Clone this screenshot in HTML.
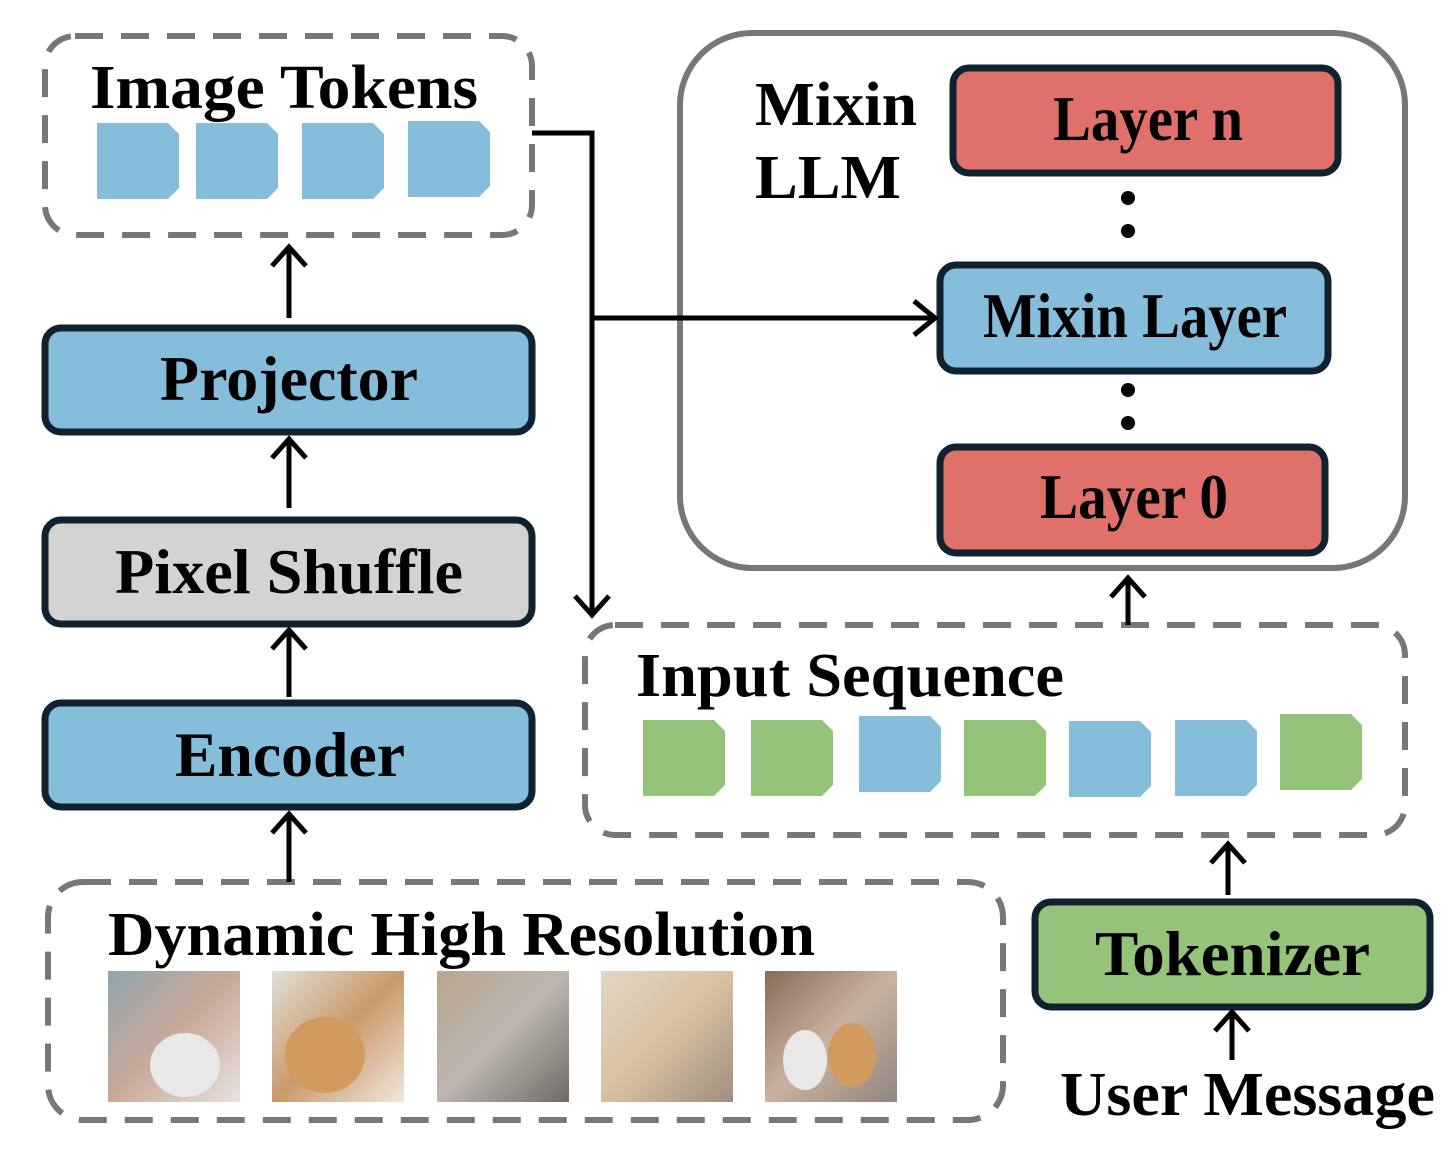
<!DOCTYPE html>
<html><head><meta charset="utf-8"><style>html,body{margin:0;padding:0;background:#fff}svg{display:block}</style></head><body>
<svg width="1448" height="1156" viewBox="0 0 1448 1156" xmlns="http://www.w3.org/2000/svg" font-family="'Liberation Serif', serif" font-weight="bold">
<defs>
<symbol id="tk" viewBox="0 0 82 76"><path d="M0 0H71L82 11V65L71 76H0Z"/></symbol>
<linearGradient id="g1" x1="0" y1="0" x2="1" y2="1"><stop offset="0" stop-color="#8fa6ad"/><stop offset="0.5" stop-color="#c9a99a"/><stop offset="1" stop-color="#e8e2de"/></linearGradient>
<linearGradient id="g2" x1="0" y1="0" x2="1" y2="1"><stop offset="0" stop-color="#dfe0da"/><stop offset="0.5" stop-color="#c99a6a"/><stop offset="1" stop-color="#efe6de"/></linearGradient>
<linearGradient id="g3" x1="0" y1="0" x2="1" y2="1"><stop offset="0" stop-color="#b8a58e"/><stop offset="0.5" stop-color="#bcb6b0"/><stop offset="1" stop-color="#6f6a66"/></linearGradient>
<linearGradient id="g4" x1="0" y1="0" x2="1" y2="1"><stop offset="0" stop-color="#e2d6c6"/><stop offset="0.5" stop-color="#d9c0a0"/><stop offset="1" stop-color="#9e8f80"/></linearGradient>
<linearGradient id="g5" x1="0" y1="0" x2="1" y2="1"><stop offset="0" stop-color="#8a6a5a"/><stop offset="0.5" stop-color="#c9b2a0"/><stop offset="1" stop-color="#8f8680"/></linearGradient>
</defs>
<g fill="none" stroke="#777" stroke-width="6" stroke-dasharray="28 18">
<rect x="45" y="36" width="487" height="199" rx="30"/>
<rect x="48" y="882" width="955" height="238" rx="35"/>
<rect x="585" y="625" width="820" height="210" rx="30"/>
</g>
<rect x="680" y="33" width="725" height="535" rx="72" fill="none" stroke="#777" stroke-width="6"/>
<g font-size="62" fill="#000">
<text x="90" y="108" textLength="388" lengthAdjust="spacingAndGlyphs">Image Tokens</text>
<text x="108" y="955" textLength="707" lengthAdjust="spacingAndGlyphs">Dynamic High Resolution</text>
<text x="636" y="696" textLength="428" lengthAdjust="spacingAndGlyphs">Input Sequence</text>
<text x="755" y="125" textLength="162" lengthAdjust="spacingAndGlyphs">Mixin</text>
<text x="755" y="198" textLength="146" lengthAdjust="spacingAndGlyphs">LLM</text>
<text x="1060" y="1115" textLength="375" lengthAdjust="spacingAndGlyphs">User Message</text>
</g>
<g fill="#86BDDB">
<use href="#tk" x="97" y="123" width="82" height="76"/>
<use href="#tk" x="196" y="123" width="82" height="76"/>
<use href="#tk" x="302" y="123" width="82" height="76"/>
<use href="#tk" x="408" y="121" width="82" height="76"/>
<use href="#tk" x="859" y="716" width="82" height="76"/>
<use href="#tk" x="1069" y="721" width="82" height="76"/>
<use href="#tk" x="1175" y="720" width="82" height="76"/>
</g>
<g fill="#95C37A">
<use href="#tk" x="643" y="720" width="82" height="76"/>
<use href="#tk" x="751" y="720" width="82" height="76"/>
<use href="#tk" x="964" y="720" width="82" height="76"/>
<use href="#tk" x="1280" y="714" width="82" height="76"/>
</g>
<g stroke="#10222f" stroke-width="7">
<rect x="45" y="328" width="487" height="104" rx="16" fill="#86BDDB"/>
<rect x="45" y="520" width="487" height="104" rx="16" fill="#D3D3D3"/>
<rect x="45" y="703" width="487" height="104" rx="16" fill="#86BDDB"/>
<rect x="953" y="68" width="385" height="105" rx="16" fill="#E0706A"/>
<rect x="940" y="265" width="388" height="106" rx="16" fill="#86BDDB"/>
<rect x="940" y="447" width="385" height="106" rx="16" fill="#E0706A"/>
<rect x="1035" y="902" width="395" height="105" rx="16" fill="#95C37A"/>
</g>
<g font-size="64" fill="#000">
<text x="160" y="400" textLength="258" lengthAdjust="spacingAndGlyphs">Projector</text>
<text x="115" y="593" textLength="348" lengthAdjust="spacingAndGlyphs">Pixel Shuffle</text>
<text x="175" y="776" textLength="230" lengthAdjust="spacingAndGlyphs">Encoder</text>
<text x="1053" y="140" textLength="190" lengthAdjust="spacingAndGlyphs">Layer n</text>
<text x="983" y="337" textLength="304" lengthAdjust="spacingAndGlyphs">Mixin Layer</text>
<text x="1040" y="518" textLength="188" lengthAdjust="spacingAndGlyphs">Layer 0</text>
<text x="1095" y="975" textLength="275" lengthAdjust="spacingAndGlyphs">Tokenizer</text>
</g>
<g fill="#000">
<circle cx="1128" cy="198" r="7"/><circle cx="1128" cy="231" r="7"/>
<circle cx="1128" cy="390" r="7"/><circle cx="1128" cy="423" r="7"/>
</g>
<g fill="none" stroke="#000" stroke-width="5">
<path d="M289 318V247M272 266L289 247L306 266"/>
<path d="M289 508V439M272 458L289 439L306 458"/>
<path d="M289 697V630M272 649L289 630L306 649"/>
<path d="M289 882V814M272 833L289 814L306 833"/>
<path d="M1128 625V578M1111 597L1128 578L1145 597"/>
<path d="M1228 895V844M1211 863L1228 844L1245 863"/>
<path d="M1232 1060V1012M1215 1031L1232 1012L1249 1031"/>
<path d="M532 133H592V615M575 596L592 615L609 596"/>
<path d="M592 318H935M914 301L935 318L914 335"/>
</g>
<rect x="108" y="971" width="132" height="131" fill="url(#g1)"/>
<rect x="272" y="971" width="132" height="131" fill="url(#g2)"/>
<rect x="437" y="971" width="132" height="131" fill="url(#g3)"/>
<rect x="601" y="971" width="132" height="131" fill="url(#g4)"/>
<rect x="765" y="971" width="132" height="131" fill="url(#g5)"/>
<g fill="#e8e8e8"><ellipse cx="185" cy="1065" rx="35" ry="32"/><ellipse cx="805" cy="1060" rx="22" ry="30"/></g>
<g fill="#d29a5e"><ellipse cx="325" cy="1055" rx="40" ry="38"/><ellipse cx="852" cy="1055" rx="24" ry="32"/></g>
</svg>
</body></html>
